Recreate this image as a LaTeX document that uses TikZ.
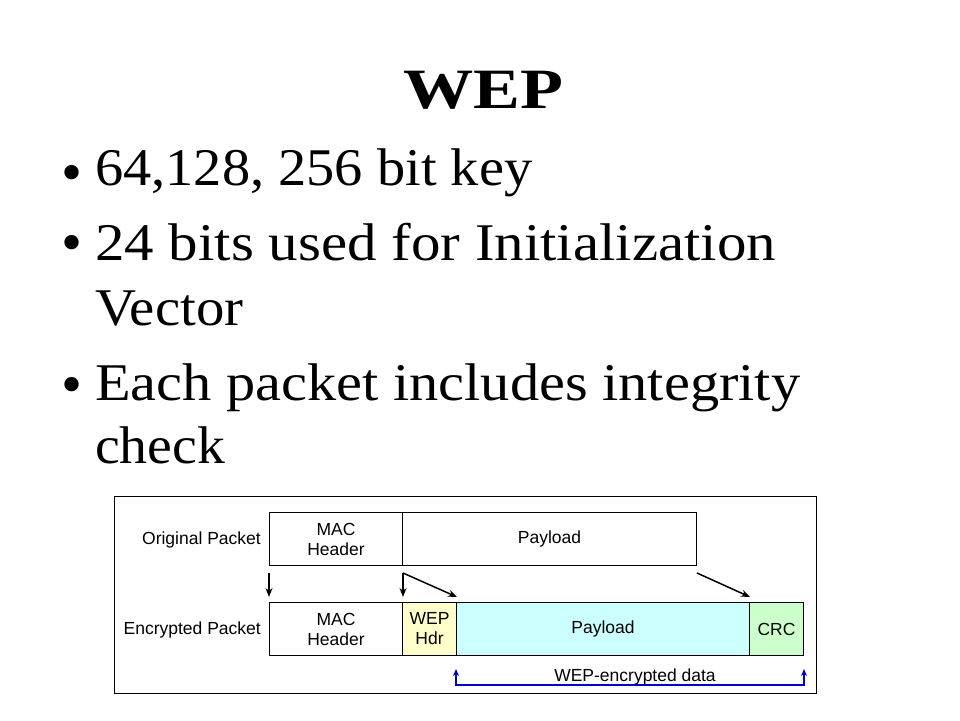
\documentclass[tikz,border=0pt]{standalone}
\usepackage{fontspec}
\usepackage{graphicx}
\setmainfont{Liberation Serif}
\newfontfamily\arialf{Liberation Sans}
\usetikzlibrary{arrows.meta}
\definecolor{wepyellow}{HTML}{FFFFCC}
\definecolor{paycyan}{HTML}{CCFFFF}
\definecolor{crcgreen}{HTML}{CCFFCC}
\definecolor{bracketblue}{HTML}{0000CC}
\tikzset{
  bodyline/.style={anchor=base west, inner sep=0pt, font=\fontsize{53}{60}\selectfont},
  bulletmark/.style={anchor=base, inner sep=0pt, font=\fontsize{60}{60}\selectfont},
  pbox/.style={draw=black, line width=1pt, anchor=north west, minimum height=53pt, inner sep=0pt, align=center, font=\arialf\fontsize{17.5}{20}\selectfont},
  plabel/.style={anchor=base east, inner sep=0pt, font=\arialf\fontsize{17.5}{20}\selectfont},
  blackarr/.style={draw=black, line width=1.5pt, -{Stealth[length=9pt,width=7pt]}},
  bluearr/.style={draw=bracketblue, line width=1.8pt, {Stealth[length=7pt,width=6pt]}-{Stealth[length=7pt,width=6pt]}}
}
\begin{document}
\begin{tikzpicture}[x=1pt,y=-1pt]
\useasboundingbox (0,0) rectangle (960,720);
% title
\node[anchor=base, inner sep=0pt, font=\bfseries\fontsize{57}{60}\selectfont] (title) at (483,108) {\resizebox{160pt}{\height}{WEP}};
% bullets
\node[bulletmark] (b1) at (72,192) {•};
\node[bulletmark] (b2) at (72,262) {•};
\node[bulletmark] (b3) at (72,404) {•};
\node[bodyline] (l1) at (95,185) {\resizebox{437pt}{\height}{64,128, 256 bit key}};
\node[bodyline] (l2) at (95,260) {\resizebox{681pt}{\height}{24 bits used for Initialization}};
\node[bodyline] (l3) at (95,325) {\resizebox{148pt}{\height}{Vector}};
\node[bodyline] (l4) at (95,400) {\resizebox{705pt}{\height}{Each packet includes integrity}};
\node[bodyline] (l5) at (95,463) {\resizebox{130pt}{\height}{check}};
% frame
\node[draw=black, line width=1pt, anchor=north west, minimum width=702pt, minimum height=197pt, inner sep=0pt] (frame) at (114,496) {};
% original packet
\node[plabel] (olab) at (261,544.5) {Original Packet};
\node[pbox, minimum width=133pt] (omac) at (269,512) {MAC\\Header};
\node[pbox, minimum width=294pt] (opay) at (402,512) {Payload};
% encrypted packet
\node[plabel] (elab) at (261,634.5) {Encrypted Packet};
\node[pbox, minimum width=133pt] (emac) at (269,602) {MAC\\Header};
\node[pbox, minimum width=54pt, fill=wepyellow] (ewep) at (402,602) {WEP\\Hdr};
\node[pbox, minimum width=293pt, fill=paycyan] (epay) at (456,602) {Payload};
\node[pbox, minimum width=54pt, fill=crcgreen] (ecrc) at (749,602) {CRC};
% arrows
\draw[blackarr] ([yshift=-7pt]omac.south west) -- ([yshift=5pt]emac.north west);
\draw[blackarr] ([yshift=-7pt]omac.south east) -- ([yshift=5pt]emac.north east);
\draw[blackarr] ([yshift=-7pt]omac.south east) -- ([yshift=5pt]ewep.north east);
\draw[blackarr] ([yshift=-7pt]opay.south east) -- ([yshift=5pt]epay.north east);
% bracket
\draw[bluearr] ([yshift=-13pt]epay.south west) -- ([yshift=-29pt]epay.south west) -- ([yshift=-29pt]ecrc.south east) -- ([yshift=-13pt]ecrc.south east);
\node[anchor=base, inner sep=0pt, font=\arialf\fontsize{17.5}{20}\selectfont] (wlab) at (635,681) {WEP-encrypted data};
\end{tikzpicture}
\end{document}
